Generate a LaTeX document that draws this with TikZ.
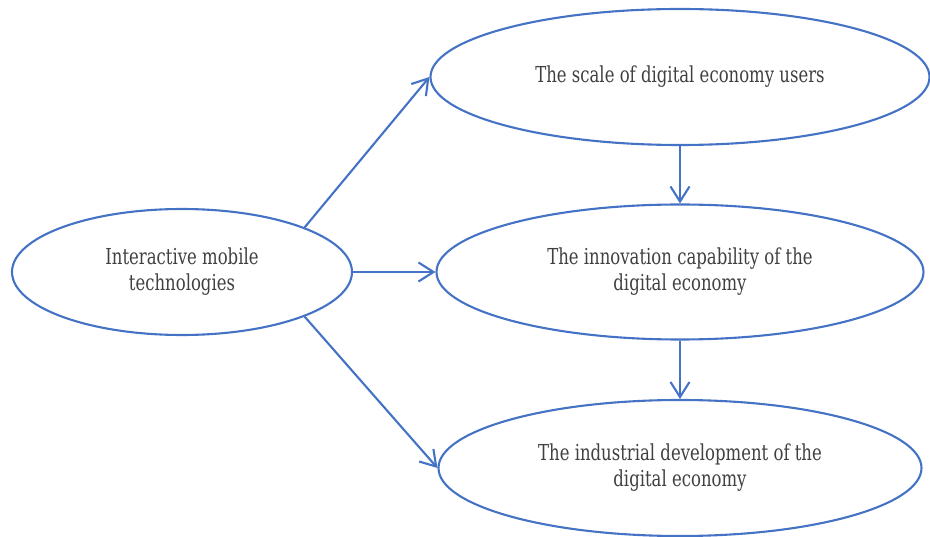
\documentclass[tikz,border=0pt]{standalone}
\usepackage{fontspec}
\setmainfont{DejaVu Serif}[FakeStretch=0.75]
\usepackage{tikz}
\usetikzlibrary{arrows.meta, shapes.geometric}
\usepackage{xcolor}
\definecolor{linkblue}{HTML}{4472C4}
\definecolor{txtgray}{HTML}{404040}

\begin{document}
\begin{tikzpicture}[
    x=1pt, y=-1pt,
    factor/.style={
        ellipse, draw=linkblue, line width=2.1pt, inner sep=0pt,
        align=center, text=txtgray,
        font=\fontsize{22}{26}\selectfont
    },
    arr/.style={-{Straight Barb[length=15pt, width=19pt, line width=2.1pt]},
        line width=2.1pt, linkblue},
]
\useasboundingbox (0,0) rectangle (930,537);

% ── Driver ────────────────────────────
\node[factor, minimum width=340pt, minimum height=126pt] (mobile) at (182,272)
    {Interactive mobile\\technologies};

% ── Outcomes ──────────────────────────
\node[factor, minimum width=499pt, minimum height=136pt] (users) at (680,77)
    {The scale of digital economy users};
\node[factor, minimum width=487pt, minimum height=135pt] (innov) at (680,272)
    {The innovation capability of the\\digital economy};
\node[factor, minimum width=483pt, minimum height=136pt] (indus) at (680,468)
    {The industrial development of the\\digital economy};

% ── Links ─────────────────────────────
\draw[arr] (mobile.20.6) -- (users.west);
\draw[arr] (mobile.east) -- (innov.west);
\draw[arr] (mobile.-20.6) -- (indus.west);
\draw[arr] (users.south) -- (innov.north);
\draw[arr] (innov.south) -- (indus.north);

\end{tikzpicture}
\end{document}
